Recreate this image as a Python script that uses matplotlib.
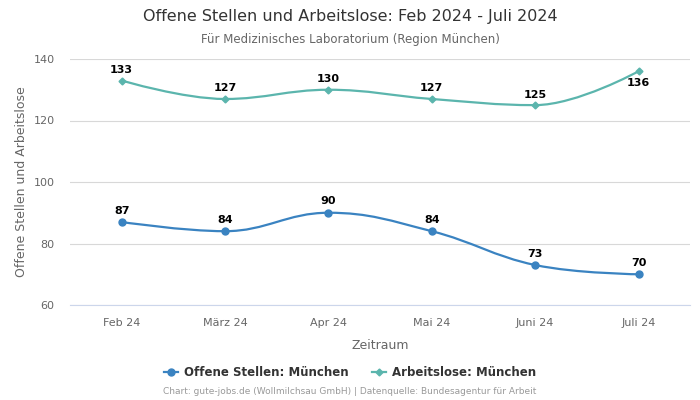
import numpy as np
import matplotlib
matplotlib.use("Agg")
import matplotlib.pyplot as plt
from matplotlib.path import Path
from matplotlib.patches import PathPatch

# Daten
months = ['Feb 24', 'März 24', 'Apr 24', 'Mai 24', 'Juni 24', 'Juli 24']
offene_stellen = [87, 84, 90, 84, 73, 70]
arbeitslose = [133, 127, 130, 127, 125, 136]

BLUE = '#3a83c1'
TEAL = '#5bb5ad'


# Glatte Kurve wie Highcharts "spline"
def spline_path(xs, ys, smoothing=1.5):
    n = len(xs)
    denom = smoothing + 1
    left = [(xs[i], ys[i]) for i in range(n)]
    right = [(xs[i], ys[i]) for i in range(n)]
    for i in range(1, n - 1):
        px, py = xs[i], ys[i]
        lx, ly = xs[i - 1], ys[i - 1]
        nx, ny = xs[i + 1], ys[i + 1]
        lcx = (smoothing * px + lx) / denom
        lcy = (smoothing * py + ly) / denom
        rcx = (smoothing * px + nx) / denom
        rcy = (smoothing * py + ny) / denom
        if rcx != lcx:
            corr = ((rcy - lcy) * (rcx - px)) / (rcx - lcx) + py - rcy
            lcy += corr
            rcy += corr
        if lcy > ly and lcy > py:
            lcy = max(ly, py)
            rcy = 2 * py - lcy
        elif lcy < ly and lcy < py:
            lcy = min(ly, py)
            rcy = 2 * py - lcy
        if rcy > ny and rcy > py:
            rcy = max(ny, py)
            lcy = 2 * py - rcy
        elif rcy < ny and rcy < py:
            rcy = min(ny, py)
            lcy = 2 * py - rcy
        left[i] = (lcx, lcy)
        right[i] = (rcx, rcy)
    verts = [(xs[0], ys[0])]
    codes = [Path.MOVETO]
    for i in range(1, n):
        verts += [right[i - 1], left[i], (xs[i], ys[i])]
        codes += [Path.CURVE4] * 3
    return Path(verts, codes)


fig = plt.figure(figsize=(7, 4), dpi=100)
ax = fig.add_axes([0.1, 0.2375, 0.886, 0.615])

x = np.arange(len(months))

for vals, color, marker, ms in [(offene_stellen, BLUE, 'o', 5),
                                (arbeitslose, TEAL, 'D', 3.5)]:
    ax.add_patch(PathPatch(spline_path(list(x), vals), facecolor='none',
                           edgecolor=color, lw=1.6, zorder=3))
    ax.plot(x, vals, linestyle='none', marker=marker, color=color,
            markersize=ms, zorder=4)

# Beschriftungen
for i, v in enumerate(offene_stellen):
    ax.annotate(str(v), (i, v), xytext=(0, 4.5), textcoords='offset points',
                ha='center', va='bottom', fontsize=8, fontweight='bold', color='black')
for i, v in enumerate(arbeitslose):
    below = i == len(arbeitslose) - 1
    ax.annotate(str(v), (i, v), xytext=(0, -5 if below else 4),
                textcoords='offset points', ha='center',
                va='top' if below else 'bottom',
                fontsize=8, fontweight='bold', color='black')

ax.set_xlim(-0.5, len(months) - 0.5)
ax.set_ylim(60, 140)
ax.set_yticks([60, 80, 100, 120, 140])
ax.set_xticks(x)
ax.set_xticklabels(months)
ax.tick_params(axis='both', length=0, labelsize=8, colors='#666666')
ax.tick_params(axis='x', pad=9)
ax.tick_params(axis='y', pad=11)
ax.grid(axis='y', color='#d8d8d8', lw=0.8)
ax.set_axisbelow(True)
for s in ['top', 'right', 'left']:
    ax.spines[s].set_visible(False)
ax.spines['bottom'].set_color('#ccd6eb')

ax.set_xlabel('Zeitraum', fontsize=9, color='#666666', labelpad=8)
ax.set_ylabel('Offene Stellen und Arbeitslose', fontsize=9, color='#666666', labelpad=4)

fig.text(0.5, 0.958, 'Offene Stellen und Arbeitslose: Feb 2024 - Juli 2024',
         ha='center', va='center', fontsize=11.5, color='#333333')
fig.text(0.5, 0.902, 'Für Medizinisches Laboratorium (Region München)',
         ha='center', va='center', fontsize=8.5, color='#666666')

# Legende
handles = [plt.Line2D([], [], color=BLUE, marker='o', markersize=5, lw=1.6),
           plt.Line2D([], [], color=TEAL, marker='D', markersize=3.5, lw=1.6)]
leg = fig.legend(handles, ['Offene Stellen: München', 'Arbeitslose: München'],
                 loc='center', bbox_to_anchor=(0.5, 0.068), ncol=2, frameon=False,
                 fontsize=8.5, handlelength=1.2, columnspacing=2, handletextpad=0.5)
for t in leg.get_texts():
    t.set_fontweight('bold')
    t.set_color('#333333')

fig.text(0.5, 0.02, 'Chart: gute-jobs.de (Wollmilchsau GmbH) | Datenquelle: Bundesagentur für Arbeit',
         ha='center', va='center', fontsize=6.5, color='#999999')

fig.savefig('out.png', dpi=100)
